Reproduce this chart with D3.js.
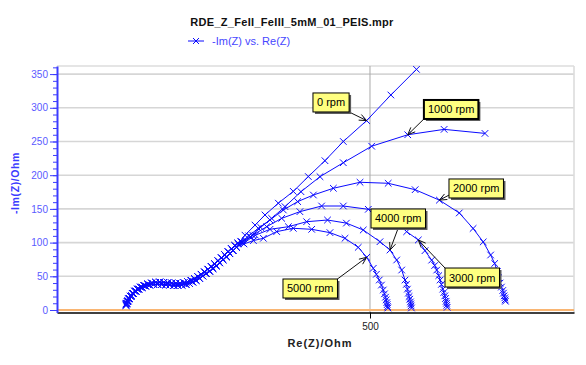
<!DOCTYPE html>
<html>
<head>
<meta charset="utf-8">
<script src="https://cdn.jsdelivr.net/npm/d3@7"></script>
<style>
  body { margin: 0; background: #fff; }
  svg { font-family: Arial, "Liberation Sans", sans-serif; }
</style>
</head>
<body>
<script>
// high frequency part, almost identical for all rotation rates
const trunkA = [[138,7],[139,10],[141,13.5],[143,17],[146,21],[149,24.5],[153,28],[157,31],[162,33.5],[167,35.5],[173,37],[179,38],[185,38],[191,38],[197,37.5],[203,37],[209,36.5],[215,36.5],[221,37],[227,38],[232,39.5],[237,41.5],[242,44],[247,47],[252,50.5],[257,54],[262,57.5],[267,61.5],[272,65.5],[277,70],[282,74.5],[287,79],[292,83.5],[297,88],[302,93]];
const trunkB = [[138.5,9],[140,12.5],[142,16.5],[144.5,20.5],[147.5,24.5],[151,28],[155,31],[159.5,34],[164.5,36.5],[170,38.5],[176,40],[182,41],[188,41.5],[194,41],[200,40.5],[206,40],[212,39.5],[218,39.5],[224,40.5],[229.5,42],[234.5,44],[239.5,46.5],[244.5,49.5],[249.5,53],[254.5,56.5],[259.5,60.5],[264.5,64.5],[269.5,68.5],[274.5,73],[279.5,77.5],[284.5,82],[289.5,86.5],[294.5,91],[299.5,95.5],[304,99]];

// low frequency part, one per rotation rate
const rpm0 = [[308,102],[314.5,111],[329.4,126],[344.2,141],[364,158.5],[386.2,176],[408.5,198],[433.2,221.5],[460.4,250],[495,281],[531,319],[569,357]];
const rpm1000 = [[309,101],[322.8,108.8],[337.8,122.6],[354,136],[373.9,153.3],[397.6,175.5],[425.8,197.8],[460.4,218.5],[502.5,243],[556,260],[610,268],[670.6,262]];
const rpm2000 = [[310,101],[320,110],[334.3,121.2],[351.6,133.5],[371.4,148.4],[392.7,160.8],[416,170.6],[445.6,180.6],[485.2,189.5],[527,188],[567,178.5],[603,163],[632.5,144],[653,121],[668,101],[679,81.6],[685,69],[689,57],[691,48],[693,40],[695,34],[697,29],[698,25],[699,21],[700,18],[700.5,15],[701,13]];
const rpm3000 = [[311,100],[326,111],[346.7,123.6],[369,136],[396,145.9],[428.2,154.3],[460.4,154.3],[497.5,149.4],[527,142],[554.4,116.2],[571.7,103.9],[581.6,88],[591.5,74],[596,66],[599,59.3],[602,51],[604,44.5],[606,38],[608,31],[609.5,26],[611,21],[612,17],[613,13],[613.5,10],[614,7],[614.5,4]];
const rpm4000 = [[312,99],[330,111],[351.6,119.7],[378.9,123.6],[406,131],[437,133.5],[465,128.9],[490,118.7],[514.8,101.3],[529.7,89],[539.6,74.2],[547,59.3],[552,44.5],[554,38],[555.5,31],[557,25],[558,20],[559,16],[560,12],[560.5,9],[561,6],[561.5,3]];
const rpm5000 = [[313,98],[327,103],[341.8,106.4],[361.6,116.3],[386.2,121.2],[413.5,119.7],[440.6,114.8],[462.9,106.4],[482.6,93],[495.1,78.2],[504.9,61.9],[509.5,53],[513.8,44.5],[517,37],[519.7,29.7],[521.5,24],[523,19],[524,15],[525,11],[525.5,8],[526,5],[526.5,3]];

const rateLabels = ["0 rpm", "1000 rpm", "2000 rpm", "3000 rpm", "4000 rpm", "5000 rpm"];
const branches = [rpm0, rpm1000, rpm2000, rpm3000, rpm4000, rpm5000];
const trunks = [trunkA, trunkB, trunkA, trunkB, trunkA, trunkB];
const yTicks = [0, 50, 100, 150, 200, 250, 300, 350];
const xTicks = [500];

// callouts: series index, point index in its branch, box top-left (data units), arrow anchor on box
const callouts = [
  {s: 0, p: 9,  bx: 415.4, by: 322,   ax: 1,   ay: 1},
  {s: 1, p: 9,  bx: 580,   by: 311.6, ax: 0,   ay: 1, bold: true},
  {s: 2, p: 11, bx: 617.2, by: 194.4, ax: 0,   ay: 0.85},
  {s: 4, p: 9,  bx: 501.5, by: 149.9, ax: 0.5, ay: 1},
  {s: 3, p: 10, bx: 611.3, by: 62.3,  ax: 0,   ay: 0},
  {s: 5, p: 9,  bx: 370.9, by: 46,    ax: 1,   ay: 0}
];

const W = 586, H = 365;
const m = {left: 57, right: 574, top: 66, bottom: 312.5};
const blue = "#0a0aff";

const svg = d3.select("body").append("svg")
  .attr("width", W).attr("height", H);

const x = d3.scaleLinear().domain([35.6, 802.7]).range([m.left, m.right]);
const y = d3.scaleLinear().domain([-3.7, 362]).range([m.bottom, m.top]);

// title + legend
svg.append("text").attr("x", 292).attr("y", 26)
  .attr("text-anchor", "middle").attr("font-size", 11).attr("font-weight", "bold")
  .attr("letter-spacing", 0.3).attr("fill", "#111")
  .text("RDE_Z_FeII_FeIII_5mM_01_PEIS.mpr");

svg.append("line").attr("x1", 188).attr("x2", 204).attr("y1", 41).attr("y2", 41)
  .attr("stroke", blue);
svg.append("path").attr("transform", "translate(196,41)")
  .attr("d", "M-3,-3L3,3M-3,3L3,-3").attr("stroke", blue).attr("fill", "none");
svg.append("text").attr("x", 212).attr("y", 45)
  .attr("font-size", 11).attr("fill", "#4646ff").text("-Im(Z) vs. Re(Z)");

// grid
svg.append("g").selectAll("line").data(yTicks).join("line")
  .attr("x1", m.left).attr("x2", m.right)
  .attr("y1", d => y(d)).attr("y2", d => y(d))
  .attr("stroke", "#d6d6d6").attr("stroke-width", 1.6);
svg.append("line").attr("x1", m.left).attr("x2", m.right)
  .attr("y1", m.top).attr("y2", m.top).attr("stroke", "#dcdcdc").attr("stroke-width", 1.6);
svg.append("line").attr("x1", m.right).attr("x2", m.right)
  .attr("y1", m.top).attr("y2", m.bottom).attr("stroke", "#dcdcdc").attr("stroke-width", 1.6);
svg.append("g").selectAll("line").data(xTicks).join("line")
  .attr("x1", d => x(d)).attr("x2", d => x(d))
  .attr("y1", m.top).attr("y2", m.bottom)
  .attr("stroke", "#a8a8a8").attr("stroke-width", 1);

// zero line
svg.append("line").attr("x1", m.left).attr("x2", m.right)
  .attr("y1", y(0)).attr("y2", y(0))
  .attr("stroke", "#f9b572").attr("stroke-width", 2);

// x axis
const xAxis = svg.append("g").attr("transform", `translate(0,${m.bottom})`)
  .call(d3.axisBottom(x).tickValues(xTicks).tickSize(6).tickSizeOuter(0).tickPadding(4));
xAxis.select(".domain").attr("stroke", "#000").attr("stroke-width", 1.5);
xAxis.selectAll(".tick line").attr("stroke", "#000");
xAxis.selectAll(".tick text").attr("font-size", 10).attr("fill", "#222")
  .attr("font-family", "Arial, 'Liberation Sans', sans-serif");
svg.append("text").attr("x", 320).attr("y", 347)
  .attr("text-anchor", "middle").attr("font-size", 11).attr("font-weight", "bold")
  .attr("letter-spacing", 1).attr("fill", "#222").text("Re(Z)/Ohm");

// y axis
const yAxisMinor = svg.append("g").attr("transform", `translate(${m.left},0)`)
  .call(d3.axisLeft(y).tickValues(d3.range(0, 361, 10)).tickSize(4).tickFormat(""));
yAxisMinor.select(".domain").remove();
yAxisMinor.selectAll(".tick line").attr("stroke", "#3c3cff");
const yAxis = svg.append("g").attr("transform", `translate(${m.left},0)`)
  .call(d3.axisLeft(y).tickValues(yTicks).tickSize(7).tickSizeOuter(0).tickPadding(2));
yAxis.select(".domain").attr("stroke", "#3c3cff").attr("stroke-width", 2);
yAxis.selectAll(".tick line").attr("stroke", "#3c3cff");
yAxis.selectAll(".tick text").attr("font-size", 10).attr("fill", "#5a5aff")
  .attr("font-family", "Arial, 'Liberation Sans', sans-serif");
svg.append("text").attr("transform", "translate(19,183) rotate(-90)")
  .attr("text-anchor", "middle").attr("font-size", 10.5).attr("font-weight", "bold")
  .attr("letter-spacing", 0.6).attr("fill", "#3c3cff").text("-Im(Z)/Ohm");

// series
const line = d3.line().x(d => x(d[0])).y(d => y(d[1]));
const series = branches.map((b, i) => trunks[i].concat(b));
const plot = svg.append("g");
series.forEach(pts => {
  plot.append("path").datum(pts).attr("d", line)
    .attr("fill", "none").attr("stroke", blue).attr("stroke-width", 1);
  plot.append("g").selectAll("path").data(pts).join("path")
    .attr("transform", d => `translate(${x(d[0])},${y(d[1])})`)
    .attr("d", "M-3.3,-3.3L3.3,3.3M-3.3,3.3L3.3,-3.3")
    .attr("stroke", blue).attr("stroke-width", 1).attr("fill", "none");
});

// callouts
const cg = svg.append("g");
callouts.forEach(c => {
  const target = branches[c.s][c.p];
  const tx = x(target[0]), ty = y(target[1]);
  const bx = x(c.bx), by = y(c.by);
  const t = cg.append("text").attr("font-size", 11).attr("fill", "#000")
    .text(rateLabels[c.s]);
  const tw = t.node().getComputedTextLength();
  const bw = tw + 8, bh = 19;
  const sx = bx + c.ax * bw, sy = by + c.ay * bh;
  // arrow
  const ang = Math.atan2(ty - sy, tx - sx), L = 8, spread = 0.4;
  cg.append("line").attr("x1", sx).attr("y1", sy).attr("x2", tx).attr("y2", ty)
    .attr("stroke", "#111").attr("stroke-width", 1);
  cg.append("path")
    .attr("d", `M${tx - L * Math.cos(ang - spread)},${ty - L * Math.sin(ang - spread)}L${tx},${ty}L${tx - L * Math.cos(ang + spread)},${ty - L * Math.sin(ang + spread)}`)
    .attr("stroke", "#111").attr("fill", "none").attr("stroke-width", 1);
  // box with shadow
  cg.append("rect").attr("x", bx + 2).attr("y", by + 2).attr("width", bw).attr("height", bh)
    .attr("fill", "#5a5a5a");
  cg.append("rect").attr("x", bx).attr("y", by).attr("width", bw).attr("height", bh)
    .attr("fill", "#ffff80").attr("stroke", "#000").attr("stroke-width", c.bold ? 2 : 1);
  t.raise().attr("x", bx + 4).attr("y", by + 13.5);
});
</script>
</body>
</html>
